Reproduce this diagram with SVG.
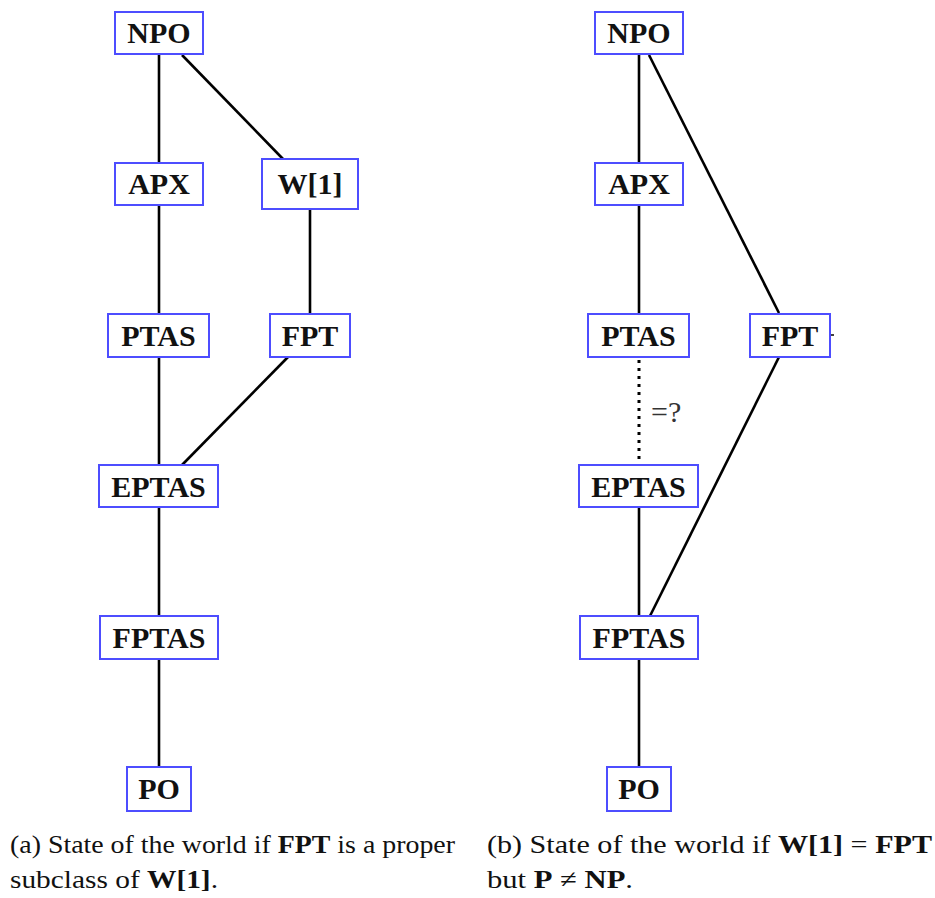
<svg xmlns="http://www.w3.org/2000/svg" width="935" height="898" viewBox="0 0 935 898">
<style>
.box{fill:#fff;stroke:#4d4dff;stroke-width:2}
.lbl{font-family:"Liberation Serif","DejaVu Serif",serif;font-weight:bold;font-size:30px;fill:#111;text-anchor:middle}
.edge{stroke:#000;stroke-width:2.6;fill:none}
.dot{stroke:#000;stroke-width:3;stroke-dasharray:3 5;fill:none}
.cap{font-family:"Liberation Serif","DejaVu Serif",serif;font-size:26px;fill:#111}
.q{font-family:"Liberation Serif","DejaVu Serif",serif;font-size:30px;fill:#333}
.b{font-weight:bold}
</style>
<rect width="935" height="898" fill="#fff"/>
<g id="connectors">
<line class="edge" x1="159" y1="54" x2="159" y2="163"/>
<line class="edge" x1="182" y1="55" x2="283" y2="159"/>
<line class="edge" x1="159" y1="205" x2="159" y2="314"/>
<line class="edge" x1="310" y1="209" x2="310" y2="314"/>
<line class="edge" x1="159" y1="357" x2="159" y2="465"/>
<line class="edge" x1="288" y1="357" x2="182" y2="465"/>
<line class="edge" x1="159" y1="507" x2="159" y2="616"/>
<line class="edge" x1="159" y1="659" x2="159" y2="767"/>
<line class="edge" x1="639" y1="54" x2="639" y2="163"/>
<line class="edge" x1="649" y1="55" x2="779" y2="313"/>
<line class="edge" x1="639" y1="205" x2="639" y2="314"/>
<line class="dot" x1="639" y1="360" x2="639" y2="465"/>
<line class="edge" x1="779" y1="357" x2="650" y2="616"/>
<line class="edge" x1="639" y1="507" x2="639" y2="616"/>
<line class="edge" x1="639" y1="659" x2="639" y2="767"/>
<line x1="831" y1="335" x2="834" y2="335" stroke="#000" stroke-width="1.5"/>
<text x="651" y="422" class="q">=?</text>
</g>
<g id="a-npo"><rect class="box" x="115" y="12" width="88" height="42"/><text class="lbl" x="159" y="43">NPO</text></g>
<g id="a-apx"><rect class="box" x="115" y="163" width="88" height="42"/><text class="lbl" x="159" y="194">APX</text></g>
<g id="a-w1"><rect class="box" x="262" y="159" width="96" height="50"/><text class="lbl" x="310" y="194">W[1]</text></g>
<g id="a-ptas"><rect class="box" x="108" y="314" width="101" height="43"/><text class="lbl" x="158.5" y="346">PTAS</text></g>
<g id="a-fpt"><rect class="box" x="270" y="314" width="80" height="43"/><text class="lbl" x="310" y="346">FPT</text></g>
<g id="a-eptas"><rect class="box" x="99" y="465" width="119" height="42"/><text class="lbl" x="158.5" y="497">EPTAS</text></g>
<g id="a-fptas"><rect class="box" x="100" y="616" width="118" height="43"/><text class="lbl" x="159" y="648">FPTAS</text></g>
<g id="a-po"><rect class="box" x="127" y="767" width="64" height="44"/><text class="lbl" x="159" y="799">PO</text></g>
<g id="b-npo"><rect class="box" x="595" y="12" width="88" height="42"/><text class="lbl" x="639" y="43">NPO</text></g>
<g id="b-apx"><rect class="box" x="595" y="163" width="88" height="42"/><text class="lbl" x="639" y="194">APX</text></g>
<g id="b-ptas"><rect class="box" x="588" y="314" width="101" height="43"/><text class="lbl" x="638.5" y="346">PTAS</text></g>
<g id="b-fpt"><rect class="box" x="750" y="314" width="80" height="43"/><text class="lbl" x="790" y="346">FPT</text></g>
<g id="b-eptas"><rect class="box" x="579" y="465" width="119" height="42"/><text class="lbl" x="638.5" y="497">EPTAS</text></g>
<g id="b-fptas"><rect class="box" x="580" y="616" width="118" height="43"/><text class="lbl" x="639" y="648">FPTAS</text></g>
<g id="b-po"><rect class="box" x="607" y="767" width="64" height="44"/><text class="lbl" x="639" y="799">PO</text></g>
<g id="captions">
<text class="cap" x="10" y="853" textLength="445" lengthAdjust="spacingAndGlyphs">(a) State of the world if <tspan class="b">FPT</tspan> is a proper</text>
<text class="cap" x="10" y="888" textLength="208" lengthAdjust="spacingAndGlyphs">subclass of <tspan class="b">W[1]</tspan>.</text>
<text class="cap" x="487" y="853" textLength="445" lengthAdjust="spacingAndGlyphs">(b) State of the world if <tspan class="b">W[1]</tspan> = <tspan class="b">FPT</tspan></text>
<text class="cap" x="487" y="888" textLength="146" lengthAdjust="spacingAndGlyphs">but <tspan class="b">P</tspan> ≠ <tspan class="b">NP</tspan>.</text>
</g>
</svg>
